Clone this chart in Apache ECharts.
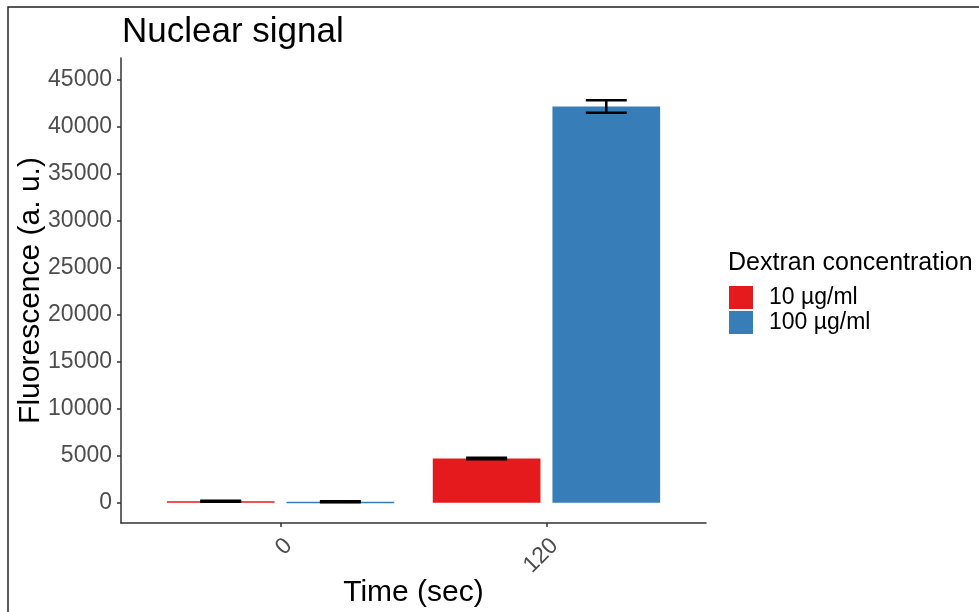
<!DOCTYPE html>
<html>
<head>
<meta charset="utf-8">
<script src="https://cdn.jsdelivr.net/npm/echarts@6/dist/echarts.min.js"></script>
<style>
  html, body { margin: 0; padding: 0; background: #fff; }
  #chart { width: 979px; height: 612px; }
</style>
</head>
<body>
<div id="chart"></div>
<script>
// time points on the x axis
const timeLabels = ['0', '120'];
// mean fluorescence and error per dextran concentration
const conc10Mean = [150, 4700];
const conc10Err = [60, 90];
const conc100Mean = [100, 42150];
const conc100Err = [60, 660];
const yTicks = [0, 5000, 10000, 15000, 20000, 25000, 30000, 35000, 40000, 45000];
const seriesNames = ['10 µg/ml', '100 µg/ml'];

const font = 'Liberation Sans, Arial, sans-serif';
const barHalf = 0.2025;
const dodge = 0.225;
const capHalf = 0.077;

function toData(means, errs) {
    return means.map((m, i) => [i + 1, m, errs[i]]);
}

function makeRender(offset) {
    return function (params, api) {
        const cx = api.value(0) + offset;
        const v = api.value(1);
        const e = api.value(2);
        const p0 = api.coord([cx - barHalf, 0]);
        const p1 = api.coord([cx + barHalf, v]);
        const hi = api.coord([cx, v + e]);
        const lo = api.coord([cx, v - e]);
        const cap = api.size([capHalf, 0])[0];
        const errStyle = { stroke: '#000', lineWidth: 2.5 };
        return {
            type: 'group',
            children: [
                {
                    type: 'rect',
                    shape: { x: p0[0], y: p1[1], width: p1[0] - p0[0], height: Math.max(p0[1] - p1[1], 1.5) },
                    style: { fill: api.visual('color') }
                },
                { type: 'line', shape: { x1: hi[0], y1: hi[1], x2: lo[0], y2: lo[1] }, style: errStyle },
                { type: 'line', shape: { x1: hi[0] - cap, y1: hi[1], x2: hi[0] + cap, y2: hi[1] }, style: errStyle },
                { type: 'line', shape: { x1: lo[0] - cap, y1: lo[1], x2: lo[0] + cap, y2: lo[1] }, style: errStyle }
            ]
        };
    };
}

const chart = echarts.init(document.getElementById('chart'));
const option = {
    backgroundColor: '#fff',
    animation: false,
    textStyle: { fontFamily: font },
    title: {
        text: 'Nuclear signal',
        left: 117,
        top: 10,
        textStyle: { fontSize: 35, fontWeight: 'normal', color: '#000', fontFamily: font }
    },
    graphic: [
        {
            type: 'rect',
            shape: { x: 8, y: 7, width: 1200, height: 1000 },
            style: { fill: 'none', stroke: '#222', lineWidth: 1.5 },
            silent: true
        },
        {
            type: 'text',
            left: 728,
            top: 251,
            style: { text: 'Dextran concentration', fontSize: 25, fill: '#000', fontFamily: font }
        }
    ],
    legend: {
        orient: 'vertical',
        left: 729,
        top: 286,
        padding: 0,
        itemWidth: 24,
        itemHeight: 23,
        itemGap: 2,
        icon: 'rect',
        data: seriesNames,
        textStyle: { fontSize: 23, color: '#000', fontFamily: font, padding: [0, 0, 0, 11] }
    },
    grid: { left: 121, right: 273, top: 58, bottom: 89, outerBoundsMode: 'none', containLabel: false },
    xAxis: {
        type: 'value',
        min: 0.4,
        max: 2.6,
        name: 'Time (sec)',
        nameLocation: 'middle',
        nameGap: 55,
        nameMoveOverlap: false,
        nameTextStyle: { fontSize: 30, color: '#000', fontFamily: font },
        axisLine: { show: true, onZero: false, lineStyle: { color: '#333', width: 1.5 } },
        axisTick: { show: true, length: 4, customValues: [1, 2], lineStyle: { color: '#333', width: 1.5 } },
        axisLabel: {
            customValues: [1, 2],
            formatter: v => timeLabels[Math.round(v) - 1],
            rotate: 45,
            verticalAlign: 'top',
            margin: 11,
            fontSize: 23,
            color: '#4d4d4d',
            fontFamily: font
        },
        splitLine: { show: false }
    },
    yAxis: {
        type: 'value',
        min: -2160,
        max: 47310,
        name: 'Fluorescence (a. u.)',
        nameLocation: 'middle',
        nameGap: 75,
        nameMoveOverlap: false,
        nameRotate: 90,
        nameTextStyle: { fontSize: 30, color: '#000', fontFamily: font },
        axisLine: { show: true, onZero: false, lineStyle: { color: '#333', width: 1.5 } },
        axisTick: { show: true, length: 4, customValues: yTicks, lineStyle: { color: '#333', width: 1.5 } },
        axisLabel: {
            customValues: yTicks,
            formatter: v => String(v),
            margin: 9,
            fontSize: 23,
            color: '#4d4d4d',
            fontFamily: font
        },
        splitLine: { show: false }
    },
    series: [
        {
            name: seriesNames[0],
            type: 'custom',
            itemStyle: { color: '#E41A1C' },
            encode: { x: 0, y: 1 },
            renderItem: makeRender(-dodge),
            data: toData(conc10Mean, conc10Err)
        },
        {
            name: seriesNames[1],
            type: 'custom',
            itemStyle: { color: '#377EB8' },
            encode: { x: 0, y: 1 },
            renderItem: makeRender(dodge),
            data: toData(conc100Mean, conc100Err)
        }
    ]
};
chart.setOption(option);
</script>
</body>
</html>
